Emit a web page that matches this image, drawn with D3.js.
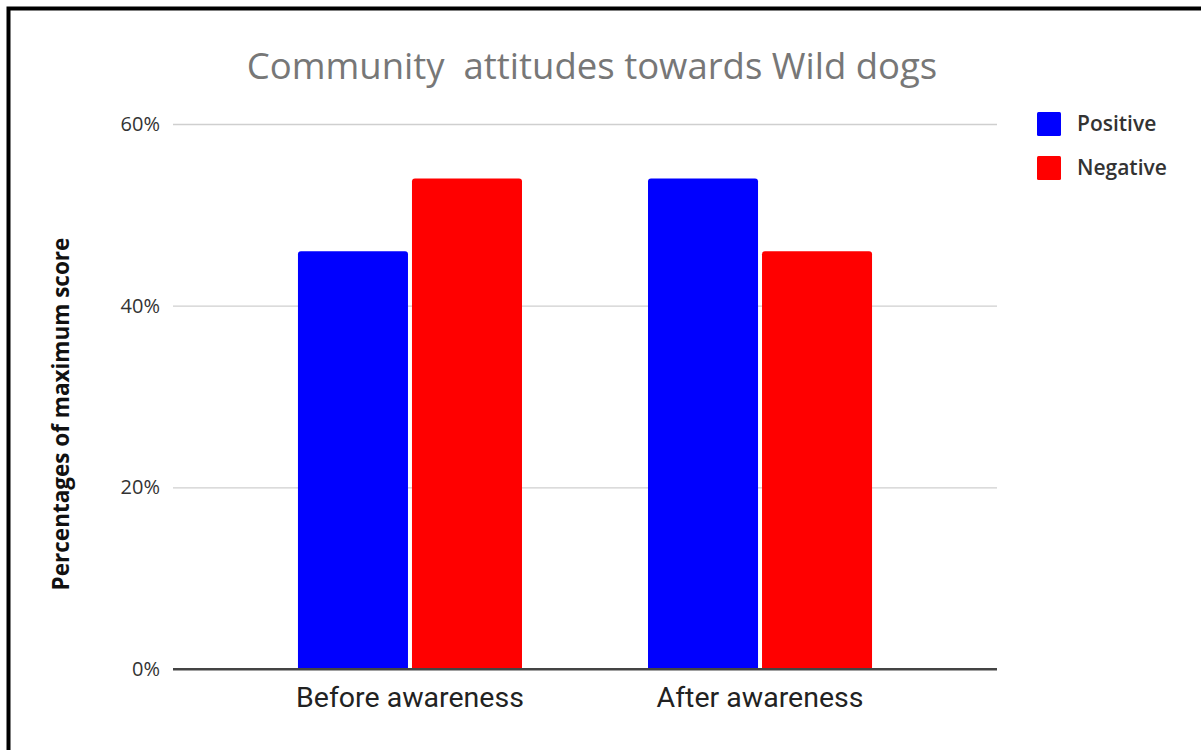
<!DOCTYPE html>
<html>
<head>
<meta charset="utf-8">
<script src="https://cdn.jsdelivr.net/npm/d3@7"></script>
<style>
  html, body { margin: 0; padding: 0; background: #fff; }
  svg { display: block; }
  text { white-space: pre; }
</style>
</head>
<body>
<svg id="chart" width="1201" height="750"></svg>
<script>
// Chart data
const categories = ["Before awareness", "After awareness"];
const seriesNames = ["Positive", "Negative"];
const positiveValues = [46, 54];
const negativeValues = [54, 46];
const yTicks = [0, 20, 40, 60];
const colors = ["#0000ff", "#ff0000"];

const rows = categories.map((c, i) => ({
  category: c,
  values: [
    { series: seriesNames[0], value: positiveValues[i] },
    { series: seriesNames[1], value: negativeValues[i] }
  ]
}));

const svg = d3.select("#chart");

// Frame lines along top and left edges
svg.append("rect")
  .attr("x", 8.5).attr("y", 8.5)
  .attr("width", 1400).attr("height", 1000)
  .attr("fill", "none").attr("stroke", "#000").attr("stroke-width", 4);

const plot = { left: 173, right: 997, top: 124, bottom: 669 };

const x0 = d3.scaleBand()
  .domain(categories)
  .range([plot.left, plot.right])
  .paddingInner(0.36)
  .paddingOuter(0.357);

const x1 = d3.scaleBand()
  .domain(seriesNames)
  .range([0, x0.bandwidth()])
  .paddingInner(0.035);

const y = d3.scaleLinear().domain([0, 60]).range([plot.bottom, plot.top]);
const color = d3.scaleOrdinal().domain(seriesNames).range(colors);

// Title
svg.append("text")
  .attr("x", 592).attr("y", 79)
  .attr("text-anchor", "middle")
  .attr("font-family", "'Open Sans', sans-serif")
  .attr("font-size", 36.5)
  .attr("fill", "#777")
  .text("Community  attitudes towards Wild dogs");

// Gridlines and y tick labels
const yAxis = d3.axisLeft(y)
  .tickValues(yTicks)
  .tickSize(-(plot.right - plot.left))
  .tickPadding(13)
  .tickFormat(d => d + "%");

const gy = svg.append("g")
  .attr("transform", `translate(${plot.left},0)`)
  .call(yAxis);
gy.select(".domain").remove();
gy.selectAll(".tick line")
  .attr("stroke", d => d === 0 ? "#444" : "#cfcfcf")
  .attr("stroke-width", d => d === 0 ? 2 : 1.3);
gy.selectAll(".tick text")
  .attr("font-family", "'Open Sans', sans-serif")
  .attr("font-size", 20)
  .attr("fill", "#333");

// Y axis title
svg.append("text")
  .attr("transform", "translate(69,414) rotate(-90)")
  .attr("text-anchor", "middle")
  .attr("font-family", "'Open Sans', sans-serif")
  .attr("font-weight", "bold")
  .attr("font-size", 22.5)
  .attr("fill", "#111")
  .text("Percentages of maximum score");

// Bars with slightly rounded top corners
function barPath(x, w, yTop, yBase, r) {
  return `M${x},${yBase} V${yTop + r} Q${x},${yTop} ${x + r},${yTop} H${x + w - r} Q${x + w},${yTop} ${x + w},${yTop + r} V${yBase} Z`;
}

const groups = svg.append("g").selectAll("g")
  .data(rows)
  .join("g")
  .attr("transform", d => `translate(${x0(d.category)},0)`);

groups.selectAll("path")
  .data(d => d.values)
  .join("path")
  .attr("d", d => barPath(x1(d.series), x1.bandwidth(), y(d.value), y(0) - 1, 3))
  .attr("fill", d => color(d.series));

// Redraw baseline on top of bars
svg.append("line")
  .attr("x1", plot.left).attr("x2", plot.right)
  .attr("y1", y(0)).attr("y2", y(0))
  .attr("stroke", "#444").attr("stroke-width", 2);

// X category labels
const xAxis = d3.axisBottom(x0).tickSize(0).tickPadding(18);
const gx = svg.append("g")
  .attr("transform", `translate(0,${y(0)})`)
  .call(xAxis);
gx.select(".domain").remove();
gx.selectAll(".tick text")
  .attr("font-family", "Roboto, sans-serif")
  .attr("font-size", 28.5)
  .attr("fill", "#222");

// Legend
const legend = svg.append("g").attr("transform", "translate(1037,112)");
const items = legend.selectAll("g")
  .data(seriesNames)
  .join("g")
  .attr("transform", (d, i) => `translate(0,${i * 44})`);
items.append("rect")
  .attr("width", 24).attr("height", 24).attr("rx", 1.5)
  .attr("fill", d => color(d));
items.append("text")
  .attr("x", 40).attr("y", 19)
  .attr("font-family", "'Open Sans', sans-serif")
  .attr("font-weight", 600)
  .attr("font-size", 21)
  .attr("fill", "#333")
  .text(d => d);
</script>
</body>
</html>
